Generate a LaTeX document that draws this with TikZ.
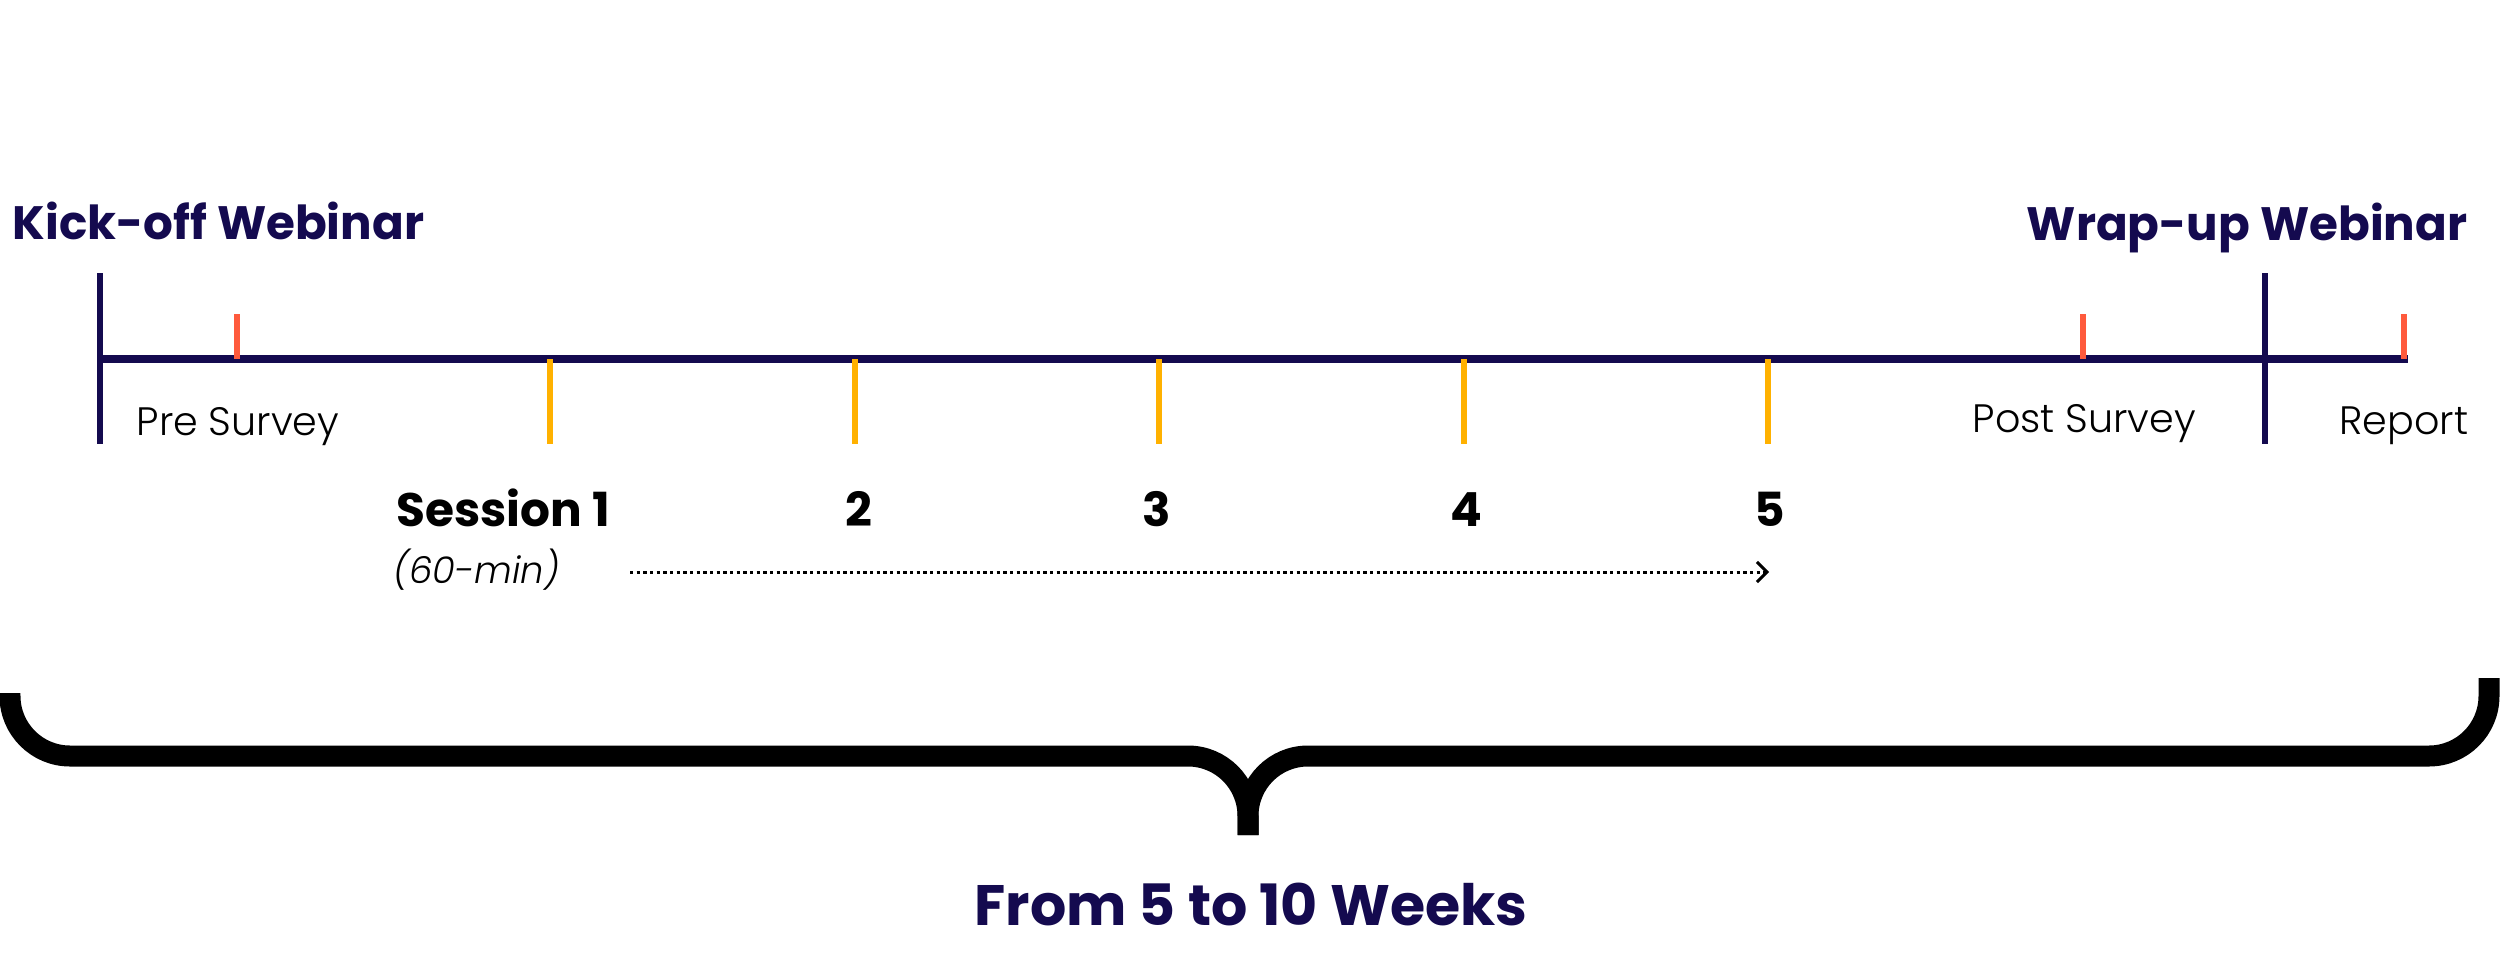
\documentclass[tikz,border=0pt]{standalone}
\usepackage{fontspec}
\setmainfont{Poppins}
\newfontfamily\lightfont{Poppins}[UprightFont=* Light, ItalicFont=* Light Italic]
\usetikzlibrary{arrows.meta}
\definecolor{navy}{HTML}{140A4F}
\definecolor{redtick}{HTML}{FF5A3C}
\definecolor{ambertick}{HTML}{FFB100}
\begin{document}
\begin{tikzpicture}[x=0.3pt,y=-0.3pt,
  title/.style={font=\fontsize{14.05}{16}\selectfont\bfseries, text=navy, inner sep=0pt},
  lbl/.style={font=\lightfont\fontsize{11.9}{13}\selectfont, text=black, inner sep=0pt},
  sess/.style={font=\fontsize{14.1}{16}\selectfont\bfseries, text=black, inner sep=0pt},
  axis/.style={draw=navy, line width=2.4pt},
  bar/.style={draw=navy, line width=1.8pt},
  redt/.style={draw=redtick, line width=1.8pt},
  ambt/.style={draw=ambertick, line width=1.8pt},
  bracestroke/.style={draw=black, line width=6.3pt, rounded corners=18pt},
  flow/.style={draw=black, line width=0.9pt, dash pattern=on 1pt off 1pt, -{Straight Barb[length=3pt,width=6pt]}}
]
\useasboundingbox (0,0) rectangle (2500,977);
% axis
\coordinate (axL) at (100,359);
\coordinate (axR) at (2408,359);
\draw[axis] (axL) -- (axR);
% webinar bars
\draw[bar] (100,273) -- (100,444);
\draw[bar] (2265,273) -- (2265,444);
% red ticks
\foreach \x in {237,2083,2404} \draw[redt] (\x,314) -- (\x,359);
% amber ticks
\foreach \x in {550,855,1159,1464,1768} \draw[ambt] (\x,359) -- (\x,444);
% labels
\node[title, anchor=base west] (kick) at (12,239) {Kick-off Webinar};
\node[title, anchor=base east] (wrap) at (2468,240) {Wrap-up Webinar};
\node[lbl, anchor=base west] (pre) at (136,435) {Pre Survey};
\node[lbl, anchor=base west] (post) at (1972,432) {Post Survey};
\node[lbl, anchor=base west] (rep) at (2339,434) {Report};
\node[sess, anchor=base west] (s1) at (396,526) {Session 1};
\node[sess, anchor=base] (s2) at (859,526) {2};
\node[sess, anchor=base] (s3) at (1157,526) {3};
\node[sess, anchor=base] (s4) at (1466,526) {4};
\node[sess, anchor=base] (s5) at (1770,526) {5};
\node[lbl, font=\lightfont\fontsize{11.1}{13}\selectfont, anchor=base west] (dur) at (393,583) {\itshape (60-min)};
% dotted arrow
\coordinate (arrS) at (630,572);
\coordinate (arrE) at (1769,572);
\draw[flow] (arrS) -- (arrE);
% brace
\coordinate (tip) at (1248,835);
\draw[bracestroke] (tip) -- (1248,756) -- (10,756) -- (10,693);
\draw[bracestroke] (tip) -- (1248,756) -- (2489,756) -- (2489,678);
\node[font=\fontsize{17.1}{19}\selectfont\bfseries, text=navy, inner sep=0pt, anchor=base] (weeks) at (1251,925) {From 5 to 10 Weeks};
\end{tikzpicture}
\end{document}
